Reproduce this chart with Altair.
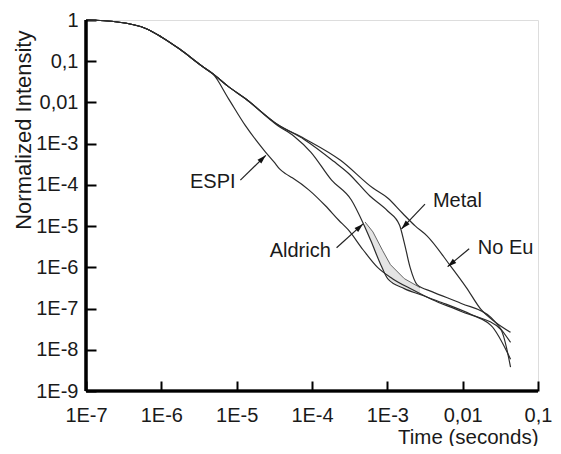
import math
import json
import altair as alt
import pandas as pd

W, H = 452, 371

x_ticks = [1e-7, 1e-6, 1e-5, 1e-4, 1e-3, 1e-2, 1e-1]
x_labels = ["1E-7", "1E-6", "1E-5", "1E-4", "1E-3", "0,01", "0,1"]
y_ticks = [1e-9, 1e-8, 1e-7, 1e-6, 1e-5, 1e-4, 1e-3, 1e-2, 1e-1, 1]
y_labels = ["1E-9", "1E-8", "1E-7", "1E-6", "1E-5", "1E-4", "1E-3", "0,01", "0,1", "1"]

espi_t = [1e-7, 2.61e-7, 6.44e-7, 1.0e-6, 1.73e-6, 3.56e-6, 4.82e-6, 7.78e-6, 1.30e-5, 2.37e-5,
          3.19e-5, 3.71e-5, 4.5e-5, 5.48e-5, 9.14e-5, 1.52e-4, 2.25e-4, 3.04e-4, 4.76e-4, 7.48e-4,
          1.17e-3, 2.14e-3, 3.90e-3, 9.59e-3, 2.37e-2, 4.32e-2]
espi_I = [1, 0.895, 0.607, 0.389, 0.200, 0.0735, 0.0498, 0.0124, 2.77e-3, 6.53e-4,
          3.45e-4, 2.45e-4, 1.85e-4, 1.48e-4, 7.48e-5, 3.07e-5, 1.41e-5, 8.09e-6, 2.67e-6, 9.80e-7,
          5.32e-7, 2.89e-7, 1.66e-7, 8.51e-8, 3.91e-8, 5.90e-9]

aldrich_t = [1e-7, 2.61e-7, 6.44e-7, 1.0e-6, 1.73e-6, 3.56e-6, 4.82e-6, 7.78e-6, 1.30e-5, 3.49e-5,
             5.82e-5, 9.70e-5, 1.82e-4, 3.33e-4, 4.76e-4, 6.05e-4, 8.18e-4, 1.01e-3, 1.68e-3,
             2.72e-3, 5.27e-3, 1.30e-2, 3.19e-2, 4.32e-2]
aldrich_I = [1, 0.895, 0.607, 0.389, 0.200, 0.0735, 0.0498, 0.0242, 0.01242, 2.77e-3,
             1.50e-3, 6.18e-4, 1.30e-4, 4.29e-5, 1.19e-5, 4.40e-6, 1.16e-6, 5.32e-7, 3.05e-7,
             2.19e-7, 1.40e-7, 7.20e-8, 3.13e-8, 3.79e-9]

metal_t = [1e-7, 2.61e-7, 6.44e-7, 1.0e-6, 1.73e-6, 3.56e-6, 4.82e-6, 7.78e-6, 1.30e-5, 3.49e-5,
           7.87e-5, 1.94e-4, 3.04e-4, 5.87e-4, 1.01e-3, 1.45e-3, 1.68e-3, 2.01e-3, 2.48e-3,
           3.90e-3, 9.59e-3, 2.37e-2, 4.32e-2]
metal_I = [1, 0.895, 0.607, 0.389, 0.200, 0.0735, 0.0498, 0.0242, 0.01242, 2.92e-3,
           1.27e-3, 3.74e-4, 1.92e-4, 5.36e-5, 2.33e-5, 1.07e-5, 3.93e-6, 9.80e-7, 3.81e-7,
           2.58e-7, 1.33e-7, 6.09e-8, 1.52e-8]

noeu_t = [1e-7, 2.61e-7, 6.44e-7, 1.0e-6, 1.73e-6, 3.56e-6, 4.82e-6, 7.78e-6, 1.30e-5, 3.49e-5,
          7.87e-5, 2.39e-4, 6.44e-4, 1.01e-3, 1.58e-3, 2.34e-3, 3.36e-3, 6.70e-3, 1.12e-2,
          1.75e-2, 2.75e-2, 4.32e-2]
noeu_I = [1, 0.895, 0.607, 0.389, 0.200, 0.0735, 0.0498, 0.0242, 0.01242, 2.92e-3,
          1.34e-3, 3.96e-4, 8.36e-5, 4.80e-5, 2.08e-5, 1.01e-5, 5.81e-6, 1.16e-6, 3.23e-7,
          9.50e-8, 4.61e-8, 2.65e-8]

# light shaded band next to the Aldrich curve
band_t = [5.06e-4, 6.44e-4, 8.69e-4, 1.10e-3, 1.68e-3, 2.72e-3]
band_hi = [1.26e-5, 7.24e-6, 2.52e-6, 1.16e-6, 5.32e-7, 3.23e-7]
band_lo = [9.57e-6, 3.33e-6, 9.80e-7, 4.76e-7, 3.05e-7, 2.19e-7]

# annotations
ann_text = ["ESPI", "Aldrich", "Metal", "No Eu"]
ann_t = [4.82e-6, 6.97e-5, 8.51e-3, 3.71e-2]
ann_I = [1.17e-4, 2.52e-6, 4.06e-5, 2.98e-6]
arr_t0 = [1.12e-5, 2.12e-4, 3.16e-3, 1.22e-2]
arr_I0 = [1.30e-4, 2.98e-6, 3.43e-5, 2.82e-6]
arr_t1 = [2.44e-5, 4.76e-4, 1.54e-3, 6.31e-3]
arr_I1 = [5.22e-4, 1.13e-5, 8.56e-6, 1.04e-6]

rows = []
for name, ts, Is in [("ESPI", espi_t, espi_I), ("Aldrich", aldrich_t, aldrich_I),
                     ("Metal", metal_t, metal_I), ("No Eu", noeu_t, noeu_I)]:
    for t, v in zip(ts, Is):
        rows.append({"series": name, "t": t, "I": v})
curves = pd.DataFrame(rows)

band = pd.DataFrame({"t": band_t, "hi": band_hi, "lo": band_lo})


def to_px(t, v):
    return (math.log10(t) + 7) / 6 * W, -math.log10(v) / 9 * H


angles = []
for a, b, c, d in zip(arr_t0, arr_I0, arr_t1, arr_I1):
    x0, y0 = to_px(a, b)
    x1, y1 = to_px(c, d)
    angles.append((math.degrees(math.atan2(x1 - x0, -(y1 - y0))) + 360) % 360)

ann = pd.DataFrame({"text": ann_text, "t": ann_t, "I": ann_I,
                    "t0": arr_t0, "I0": arr_I0, "t1": arr_t1, "I1": arr_I1,
                    "angle": angles})

FONT = "Liberation Sans"
TXT = "#1a1a1a"
xscale = alt.Scale(type="log", domain=[1e-7, 0.1], nice=False)
yscale = alt.Scale(type="log", domain=[1e-9, 1], nice=False)

x_expr = json.dumps(x_labels) + "[round(log(datum.value)/LN10) + 7]"
y_expr = json.dumps(y_labels) + "[round(log(datum.value)/LN10) + 9]"

xaxis = alt.Axis(values=x_ticks, labelExpr=x_expr, tickSize=10, tickWidth=2, tickColor="black",
                 domain=False, grid=False, offset=-10, labelPadding=14, labelFontSize=20,
                 labelFont=FONT, labelColor=TXT, labelFlush=False,
                 title="Time (seconds)", titleFont=FONT, titleFontSize=20.5,
                 titleFontWeight="normal", titleColor=TXT, titleX=W, titleY=62,
                 titleAlign="right", titleBaseline="alphabetic", titleAnchor="end")
yaxis = alt.Axis(values=y_ticks, labelExpr=y_expr, tickSize=10, tickWidth=2, tickColor="black",
                 domain=False, grid=False, offset=-10, labelPadding=8, labelFontSize=20,
                 labelFont=FONT, labelColor=TXT, labelFlush=False,
                 title="Normalized Intensity", titleFont=FONT, titleFontSize=22,
                 titleFontWeight="normal", titleColor=TXT, titleAngle=-90,
                 titleX=-83, titleY=10, titleAlign="right", titleBaseline="top",
                 titleAnchor="end")

band_layer = alt.Chart(band).mark_area(color="#e4e4e4", opacity=1).encode(
    x=alt.X("t:Q", scale=xscale, axis=xaxis),
    y=alt.Y("hi:Q", scale=yscale, axis=yaxis),
    y2="lo:Q",
)
band_edge = alt.Chart(band).mark_line(color="#555", strokeWidth=0.9).encode(
    x=alt.X("t:Q", scale=xscale), y=alt.Y("hi:Q", scale=yscale)
)

lines = alt.Chart(curves).mark_line(color="#2b2b2b", strokeWidth=1.2, interpolate="monotone").encode(
    x=alt.X("t:Q", scale=xscale, axis=xaxis),
    y=alt.Y("I:Q", scale=yscale, axis=yaxis),
    detail="series:N",
)

arrow_lines = alt.Chart(ann).mark_rule(color="#222", strokeWidth=1.2).encode(
    x=alt.X("t0:Q", scale=xscale), y=alt.Y("I0:Q", scale=yscale),
    x2="t1:Q", y2="I1:Q",
)
arrow_heads = alt.Chart(ann).mark_point(
    shape="M0,0L0.3,1L-0.3,1Z", filled=True, color="#111", opacity=1, size=324
).encode(
    x=alt.X("t1:Q", scale=xscale), y=alt.Y("I1:Q", scale=yscale),
    angle=alt.Angle("angle:Q", scale=None),
)
labels = alt.Chart(ann).mark_text(font=FONT, fontSize=20, color=TXT,
                                  align="center", baseline="middle").encode(
    x=alt.X("t:Q", scale=xscale), y=alt.Y("I:Q", scale=yscale), text="text:N"
)

left_domain = alt.Chart(ann).mark_rule(color="black", strokeWidth=2.6).encode(
    x=alt.value(0), y=alt.value(0), y2=alt.value(H)
)
bottom_domain = alt.Chart(ann).mark_rule(color="black", strokeWidth=2.6).encode(
    x=alt.value(0), x2=alt.value(W), y=alt.value(H)
)

chart = alt.layer(
    band_layer, band_edge, lines, arrow_lines, arrow_heads, labels, left_domain, bottom_domain
).properties(
    width=W, height=H,
    autosize=alt.AutoSizeParams(type="none"),
    padding={"left": 78, "top": 12, "right": 15, "bottom": 55},
).configure_view(stroke=None).configure(background="white")

chart.save("out.html", embed_options={"renderer": "svg", "actions": False})
